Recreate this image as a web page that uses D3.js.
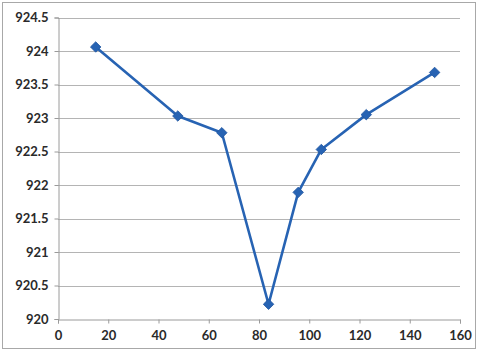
<!DOCTYPE html>
<html>
<head>
<meta charset="utf-8">
<script src="https://cdn.jsdelivr.net/npm/d3@7"></script>
<style>
  html, body { margin: 0; padding: 0; background: #fff; }
  svg { display: block; }
  .tick text { font-family: Lato, "Open Sans", sans-serif; font-size: 13px; font-weight: 700; fill: #2a2a2a; }
</style>
</head>
<body>
<svg id="chart" width="478" height="351"></svg>
<script>
// Measured series
const xValues = [15, 47.7, 65.2, 83.8, 95.6, 104.8, 122.7, 149.9];
const yValues = [924.06, 923.03, 922.78, 920.22, 921.89, 922.53, 923.05, 923.68];
const xTicks = [0, 20, 40, 60, 80, 100, 120, 140, 160];
const yTicks = [920, 920.5, 921, 921.5, 922, 922.5, 923, 923.5, 924, 924.5];

const svg = d3.select("#chart");
const W = 478, H = 351;
const margin = { left: 58, right: 18, top: 17.5, bottom: 32 };

// Outer chart frame
svg.append("rect")
  .attr("x", 2.5).attr("y", 2.5)
  .attr("width", W - 5).attr("height", H - 5)
  .attr("fill", "#fff").attr("stroke", "#a8a8a8").attr("stroke-width", 1);

const x = d3.scaleLinear().domain([0, 160]).range([margin.left, W - margin.right]);
const y = d3.scaleLinear().domain([920, 924.5]).range([H - margin.bottom, margin.top]);

// Horizontal gridlines
svg.append("g")
  .selectAll("line")
  .data(yTicks.slice(1))
  .join("line")
  .attr("x1", x(0)).attr("x2", x(160))
  .attr("y1", d => Math.round(y(d)) + 0.5).attr("y2", d => Math.round(y(d)) + 0.5)
  .attr("stroke", "#b4b4b4").attr("stroke-width", 1);

// Y axis
const yAxis = svg.append("g")
  .attr("transform", `translate(${x(0) + 0.5},0)`)
  .call(d3.axisLeft(y).tickValues(yTicks).tickFormat(d3.format("")).tickSize(4).tickPadding(6));
yAxis.select(".domain").attr("stroke", "#9a9a9a");
yAxis.selectAll(".tick line").attr("stroke", "#9a9a9a");

// X axis
const xAxis = svg.append("g")
  .attr("transform", `translate(0,${Math.round(y(920)) + 0.5})`)
  .call(d3.axisBottom(x).tickValues(xTicks).tickFormat(d3.format("d")).tickSize(4).tickPadding(7));
xAxis.select(".domain").attr("stroke", "#9a9a9a");
xAxis.selectAll(".tick line").attr("stroke", "#9a9a9a");

// Series line
const pts = xValues.map((v, i) => [v, yValues[i]]);
const lineColor = "#2763b3";
svg.append("path")
  .datum(pts)
  .attr("fill", "none")
  .attr("stroke", lineColor)
  .attr("stroke-width", 2.6)
  .attr("stroke-linejoin", "round")
  .attr("d", d3.line().x(d => x(d[0])).y(d => y(d[1])));

// Diamond markers
svg.append("g")
  .selectAll("path")
  .data(pts)
  .join("path")
  .attr("transform", d => `translate(${x(d[0])},${y(d[1])})`)
  .attr("d", d3.symbol().type(d3.symbolDiamond2).size(70))
  .attr("fill", lineColor)
  .attr("stroke", "#1f56a0")
  .attr("stroke-width", 0.8);
</script>
</body>
</html>
